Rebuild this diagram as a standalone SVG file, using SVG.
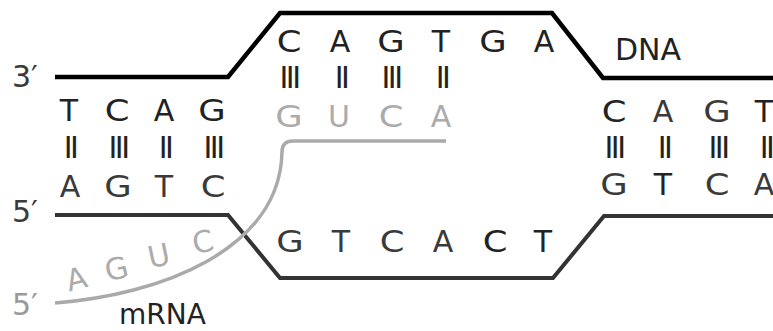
<svg xmlns="http://www.w3.org/2000/svg" width="773" height="331" viewBox="0 0 773 331">
<style>
text{font-family:"DejaVu Sans","Liberation Sans",sans-serif;font-size:30px;text-anchor:middle}
.k{fill:#222}
.d{fill:#3a3a3a}
.r{fill:#ababab}
.bar{letter-spacing:-2.5px}
.w{transform-box:fill-box;transform-origin:center;transform:scaleX(1.18)}
.lab{text-anchor:start}
</style>
<rect width="773" height="331" fill="#fff"/>
<g id="strands" fill="none" stroke-linejoin="miter">
  <path id="template" d="M55,77 L228,77 L280,13 L552,13 L603,78 L773,78" stroke="#000" stroke-width="4.5"/>
  <path id="coding" d="M55,215 L228,215 L280,278 L553,278 L604,216 L773,216" stroke="#333" stroke-width="4"/>
  <path id="mrna" d="M55,303 C160,295 280,250 282,152 Q282,141 293,141 L446,141" stroke="#aaa" stroke-width="3.5"/>
</g>
<g id="top-bubble">
  <text class="k w" x="289" y="52">C</text>
  <text class="k" x="340" y="52">A</text>
  <text class="k w" x="391" y="52">G</text>
  <text class="k" x="441" y="52">T</text>
  <text class="k w" x="493" y="52">G</text>
  <text class="k" x="544" y="52">A</text>
  <text class="k bar" x="289" y="88">III</text>
  <text class="k bar" x="341" y="88">II</text>
  <text class="k bar" x="391" y="88">III</text>
  <text class="k bar" x="442" y="88">II</text>
  <text class="r w" x="289" y="127">G</text>
  <text class="r" x="339" y="127">U</text>
  <text class="r w" x="391" y="127">C</text>
  <text class="r" x="441" y="127">A</text>
</g>
<g id="left-duplex">
  <text class="k" x="69" y="121">T</text>
  <text class="k w" x="117" y="121">C</text>
  <text class="k" x="164" y="121">A</text>
  <text class="k w" x="212" y="121">G</text>
  <text class="k bar" x="70" y="158">II</text>
  <text class="k bar" x="118" y="158">III</text>
  <text class="k bar" x="165" y="158">II</text>
  <text class="k bar" x="213" y="158">III</text>
  <text class="d" x="70" y="197">A</text>
  <text class="d w" x="118" y="197">G</text>
  <text class="d" x="164" y="197">T</text>
  <text class="d w" x="213" y="197">C</text>
</g>
<g id="right-duplex">
  <text class="k w" x="614" y="122">C</text>
  <text class="d" x="663" y="122">A</text>
  <text class="d w" x="717" y="122">G</text>
  <text class="k" x="764" y="122">T</text>
  <text class="k bar" x="614" y="158">III</text>
  <text class="k bar" x="664" y="158">II</text>
  <text class="k bar" x="718" y="158">III</text>
  <text class="k bar" x="766" y="158">II</text>
  <text class="d w" x="614" y="195">G</text>
  <text class="k" x="663" y="195">T</text>
  <text class="d w" x="717" y="195">C</text>
  <text class="d" x="764" y="195">A</text>
</g>
<g id="bottom-bubble">
  <text class="d w" x="290" y="252">G</text>
  <text class="d" x="341" y="252">T</text>
  <text class="d w" x="392" y="252">C</text>
  <text class="d" x="443" y="252">A</text>
  <text class="k w" x="495" y="252">C</text>
  <text class="k" x="543" y="252">T</text>
</g>
<g id="mrna-tail">
  <text class="r" transform="translate(79,289) rotate(-14)">A</text>
  <text class="r" transform="translate(119,279) rotate(-14)">G</text>
  <text class="r" transform="translate(161,266) rotate(-12)">U</text>
  <text class="r" transform="translate(205,252) rotate(-12)">C</text>
</g>
<g id="labels">
  <text class="d lab" x="12" y="87">3′</text>
  <text class="d lab" x="12" y="222">5′</text>
  <text class="lab" x="12" y="315" fill="#999">5′</text>
  <text class="k lab" x="615" y="60">DNA</text>
  <text class="k lab" x="119" y="324" style="font-size:28px">mRNA</text>
</g>
</svg>
